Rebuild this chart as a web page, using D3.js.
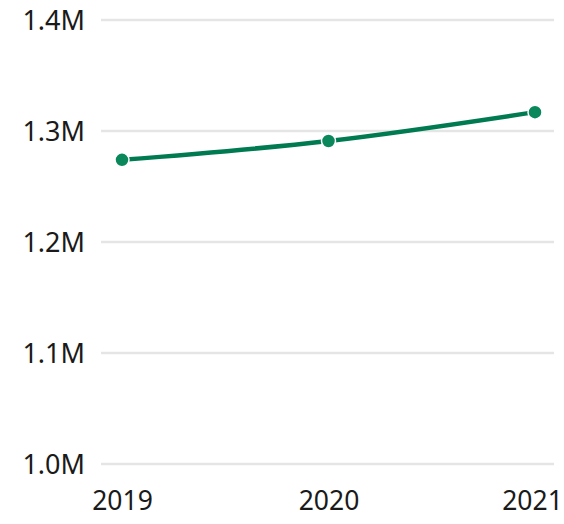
<!DOCTYPE html>
<html><head><meta charset="utf-8">
<script src="https://cdn.jsdelivr.net/npm/d3@7"></script>
<style>html,body{margin:0;padding:0;background:#fff;overflow:hidden}</style>
</head><body>
<svg id="c" width="564" height="524"></svg>
<script>
const years = [2019, 2020, 2021];
const values = [1274000, 1291000, 1317000];
const yTicks = [1000000, 1100000, 1200000, 1300000, 1400000];

const svg = d3.select("#c");
const x = d3.scaleLinear().domain([2019, 2021]).range([122, 535]);
const y = d3.scaleLinear().domain([1000000, 1400000]).range([464, 20]);
const font = "'Noto Sans', sans-serif";

const yAxis = d3.axisLeft(y).tickValues(yTicks).tickSize(0).tickPadding(0)
  .tickFormat(d => (d / 1e6).toFixed(1) + "M");
const gy = svg.append("g").attr("transform", "translate(85,0)").call(yAxis);
gy.select(".domain").remove();
gy.selectAll("text").attr("font-family", font).attr("font-size", 27).attr("fill", "#1a1a1a").attr("dy", "0.35em");

svg.append("g").selectAll("line").data(yTicks).join("line")
  .attr("x1", 101).attr("x2", 554)
  .attr("y1", d => y(d)).attr("y2", d => y(d))
  .attr("stroke", "#e5e5e5").attr("stroke-width", 2.5);

const xAxis = d3.axisBottom(x).tickValues(years).tickSize(0).tickPadding(0).tickFormat(d3.format("d"));
const gx = svg.append("g").attr("transform", "translate(0,491)").call(xAxis);
gx.select(".domain").remove();
gx.selectAll("text").attr("font-family", font).attr("font-size", 26.5).attr("fill", "#1a1a1a").attr("dy", "0.71em")
  .attr("dx", (d, i) => i === years.length - 1 ? -3 : 0);

const data = years.map((yr, i) => ({yr, v: values[i]}));
svg.append("path").datum(data)
  .attr("fill", "none").attr("stroke", "#007a50").attr("stroke-width", 4.5)
  .attr("d", d3.line().x(d => x(d.yr)).y(d => y(d.v)).curve(d3.curveMonotoneX));

svg.append("g").selectAll("circle").data(data).join("circle")
  .attr("cx", d => x(d.yr)).attr("cy", d => y(d.v)).attr("r", 7)
  .attr("fill", "#0a875b").attr("stroke", "#fff").attr("stroke-width", 1.5);
</script>
</body></html>
